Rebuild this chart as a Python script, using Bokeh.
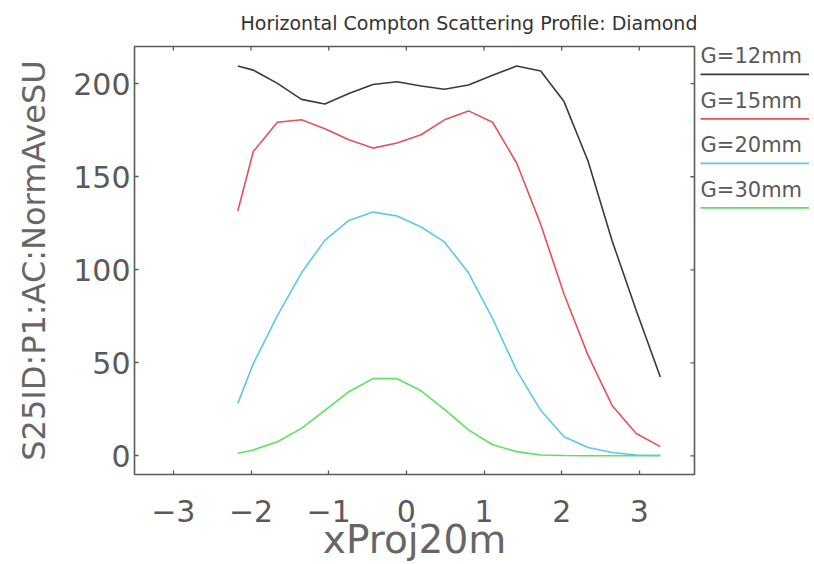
import math
from bokeh.plotting import figure
from bokeh.models import Range1d, FixedTicker, ColumnDataSource
from bokeh.layouts import row
from bokeh.embed import file_html
from bokeh.resources import INLINE
from bokeh.core.properties import value

# ---- data ----
x_proj = [-2.17, -1.97, -1.66, -1.35, -1.05, -0.74, -0.43, -0.12, 0.19, 0.49,
          0.80, 1.11, 1.42, 1.73, 2.03, 2.34, 2.65, 2.96, 3.27]
g12 = [209.5, 207.3, 200.2, 191.6, 189.1, 194.8, 199.6, 201.1, 198.8, 197.0,
       199.3, 204.5, 209.5, 206.8, 190.4, 158.3, 115.5, 78.1, 42.4]
g15 = [131.6, 163.6, 179.3, 180.6, 175.8, 169.9, 165.4, 168.1, 172.6, 180.6,
       185.4, 179.3, 157.4, 124.4, 87.0, 54.0, 27.0, 12.0, 5.0]
g20 = [28.2, 49.6, 75.4, 98.4, 115.8, 126.5, 131.0, 128.9, 123.0, 115.0,
       98.4, 73.8, 46.0, 24.5, 10.3, 4.5, 1.8, 0.5, 0.3]
g30 = [1.4, 3.2, 7.6, 14.8, 24.5, 34.5, 41.5, 41.5, 35.0, 25.0,
       14.0, 6.0, 2.3, 0.5, 0.2, 0.1, 0.1, 0.1, 0.1]

series_labels = ["G=12mm", "G=15mm", "G=20mm", "G=30mm"]
series_values = [g12, g15, g20, g30]
series_colors = ["#3a3a3a", "#e8505a", "#5cc8ec", "#5ee060"]

x_ticks = [-3, -2, -1, 0, 1, 2, 3]
y_ticks = [0, 50, 100, 150, 200]

title_text = "Horizontal Compton Scattering Profile: Diamond"
x_label = "xProj20m"
y_label = "S25ID:P1:AC:NormAveSU"

FONT = "DejaVu Sans"
H = 564
X0, X1 = -3.5, 3.71
Y0, Y1 = -10, 220
TICK_COLOR = "#5a5a5a"

p = figure(width=696, height=H, output_backend="svg", toolbar_location=None,
           x_range=Range1d(X0, X1), y_range=Range1d(Y0, Y1),
           min_border_left=134, min_border_right=2, min_border_top=0,
           min_border_bottom=89, title=title_text)
p.grid.visible = False
p.background_fill_color = "white"
p.border_fill_color = "white"
p.outline_line_color = TICK_COLOR
p.outline_line_width = 1.6

p.title.text_font = FONT
p.title.text_font_size = "19px"
p.title.text_font_style = "normal"
p.title.text_color = "#333333"
p.title.align = "left"
p.title.vertical_align = "top"
p.title.offset = 106
p.title.standoff = 22

for ax in (p.xaxis[0], p.yaxis[0]):
    ax.axis_line_color = None
    ax.major_tick_in = 4
    ax.major_tick_out = 0
    ax.major_tick_line_color = TICK_COLOR
    ax.major_tick_line_width = 1.3
    ax.minor_tick_line_color = None
    ax.major_label_text_font = FONT
    ax.major_label_text_font_size = "30px"
    ax.major_label_text_color = TICK_COLOR
    ax.axis_label_text_font = FONT
    ax.axis_label_text_font_style = "normal"
    ax.axis_label_text_color = "#666666"

p.xaxis[0].ticker = FixedTicker(ticks=x_ticks)
p.yaxis[0].ticker = FixedTicker(ticks=y_ticks)
p.xaxis[0].major_label_standoff = 25
p.yaxis[0].major_label_standoff = 4
p.xaxis[0].axis_label = x_label
p.xaxis[0].axis_label_text_font_size = "39px"
p.xaxis[0].axis_label_standoff = -8
p.yaxis[0].axis_label = y_label
p.yaxis[0].axis_label_text_font_size = "32px"
p.yaxis[0].axis_label_standoff = 17

# mirrored inward ticks on the top and right frame edges
p.ray(x=x_ticks, y=[Y1] * len(x_ticks), length=4, length_units="screen",
      angle=-math.pi / 2, line_color=TICK_COLOR, line_width=1.3)
p.ray(x=[X1] * len(y_ticks), y=y_ticks, length=4, length_units="screen",
      angle=math.pi, line_color=TICK_COLOR, line_width=1.3)

for vals, col in zip(series_values, series_colors):
    p.line(x_proj, vals, line_color=col, line_width=1.6)

# ---- legend panel (label above a line sample); its frame is aligned with the main frame ----
FRAME_TOP, FRAME_BOTTOM = 45, 475
LEG_SPACING = 44.7
LEG_FIRST = 73
lg = figure(width=116, height=H, output_backend="svg", toolbar_location=None,
            title=None, x_range=Range1d(0, 1),
            y_range=Range1d(-(FRAME_BOTTOM - LEG_FIRST) / LEG_SPACING,
                            (LEG_FIRST - FRAME_TOP) / LEG_SPACING),
            min_border_left=0, min_border_right=0, min_border_top=0,
            min_border_bottom=0)
lg.axis.visible = False
lg.grid.visible = False
lg.outline_line_color = None
idx = list(range(len(series_labels)))
src = ColumnDataSource(dict(
    x0=[0.035] * len(idx), x1=[0.97] * len(idx),
    y=[-i for i in idx], ty=[-i + 0.41 for i in idx],
    label=series_labels, color=series_colors))
lg.segment(x0="x0", y0="y", x1="x1", y1="y", line_color="color",
           line_width=1.8, source=src)
lg.text(x="x0", y="ty", text="label", text_font=value(FONT),
        text_font_size="21px", text_color=TICK_COLOR,
        text_baseline="middle", text_align="left", source=src)

layout = row(p, lg)
open("out.html", "w").write(file_html(layout, INLINE))
